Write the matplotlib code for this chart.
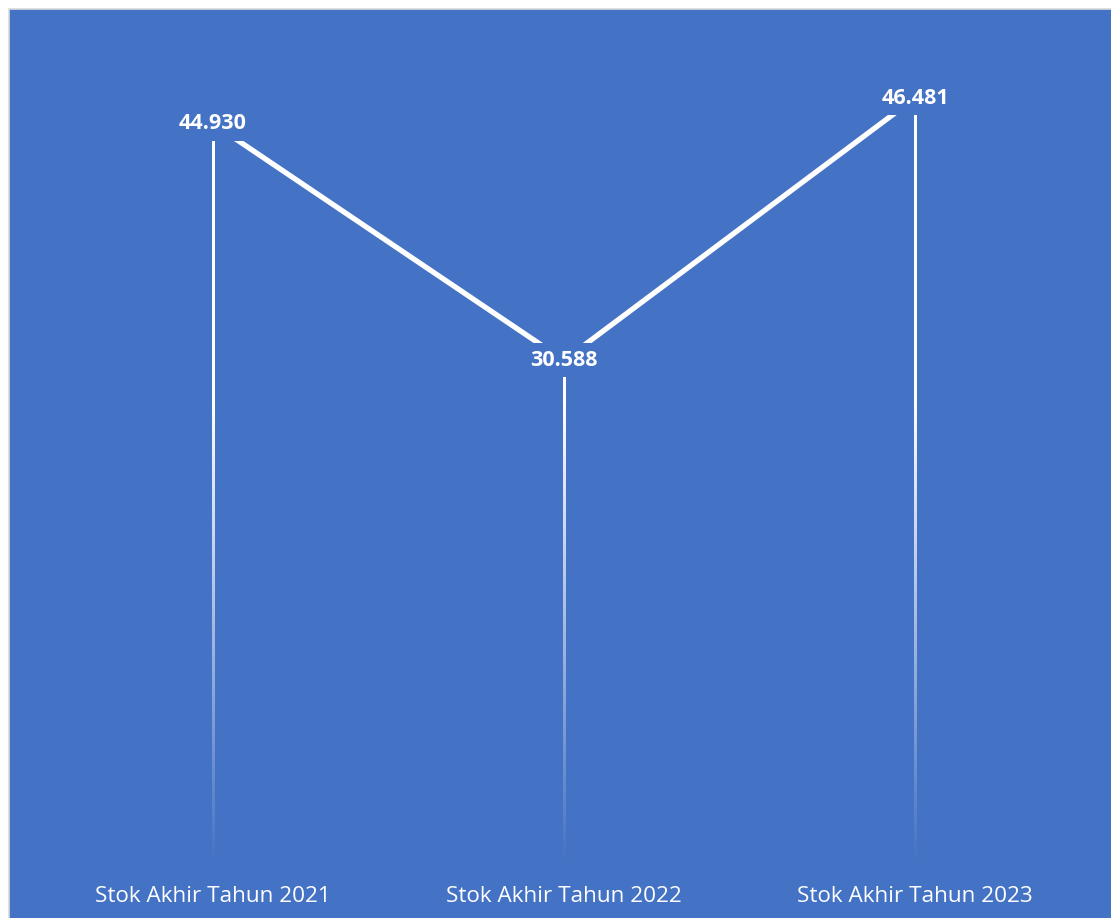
import numpy as np
import matplotlib.pyplot as plt
from matplotlib.patches import Rectangle

categories = ["Stok Akhir Tahun 2021", "Stok Akhir Tahun 2022", "Stok Akhir Tahun 2023"]
values = [44.930, 30.588, 46.481]
labels = ["44.930", "30.588", "46.481"]

blue = "#4472C4"
plt.rcParams['font.family'] = ['Open Sans', 'DejaVu Sans']

fig = plt.figure(figsize=(11.11, 9.18), dpi=100)
fig.patch.set_facecolor("white")
# chart area background with light border
bg = Rectangle((8.5/1111, -0.01), 1.02, (918-8.5)/918 + 0.01, transform=fig.transFigure,
               facecolor=blue, edgecolor="#d9d9d9", lw=1.2, zorder=-5)
fig.patches.append(bg)

ax = fig.add_axes([37.5/1111, 53/918, 1053/1111, 825/918])
ax.set_zorder(2)
ax.set_facecolor("none")
x = np.arange(len(values))

# drop lines fading towards the axis (gradient image per line)
half_w = 1.2 / 351
for xi, v in zip(x, values):
    ys = np.linspace(v, 0, 300)
    alpha = np.clip(ys / 28.0, 0, 1) ** 1.0
    img = np.ones((len(ys), 1, 4))
    img[:, 0, 3] = alpha
    ax.imshow(img, extent=(xi - half_w, xi + half_w, 0, v), aspect="auto",
              interpolation="bilinear", zorder=2)

ax.plot(x, values, color="white", lw=3.8, zorder=3, solid_capstyle="butt")

for xi, v, lab in zip(x, values, labels):
    ax.text(xi, v, lab, ha="center", va="center", color="white", fontsize=15.5,
            fontweight="bold", zorder=5,
            bbox=dict(boxstyle="square,pad=0.3", facecolor=blue, edgecolor="none"))

ax.set_xlim(-0.5, 2.5)
ax.set_ylim(0, 50)
ax.set_xticks(x)
ax.set_xticklabels(categories, color="white", fontsize=16.2)
ax.tick_params(axis="x", length=0, pad=15)
ax.set_yticks([])
for s in ax.spines.values():
    s.set_visible(False)

fig.savefig("out.png", dpi=100, facecolor=fig.get_facecolor())
